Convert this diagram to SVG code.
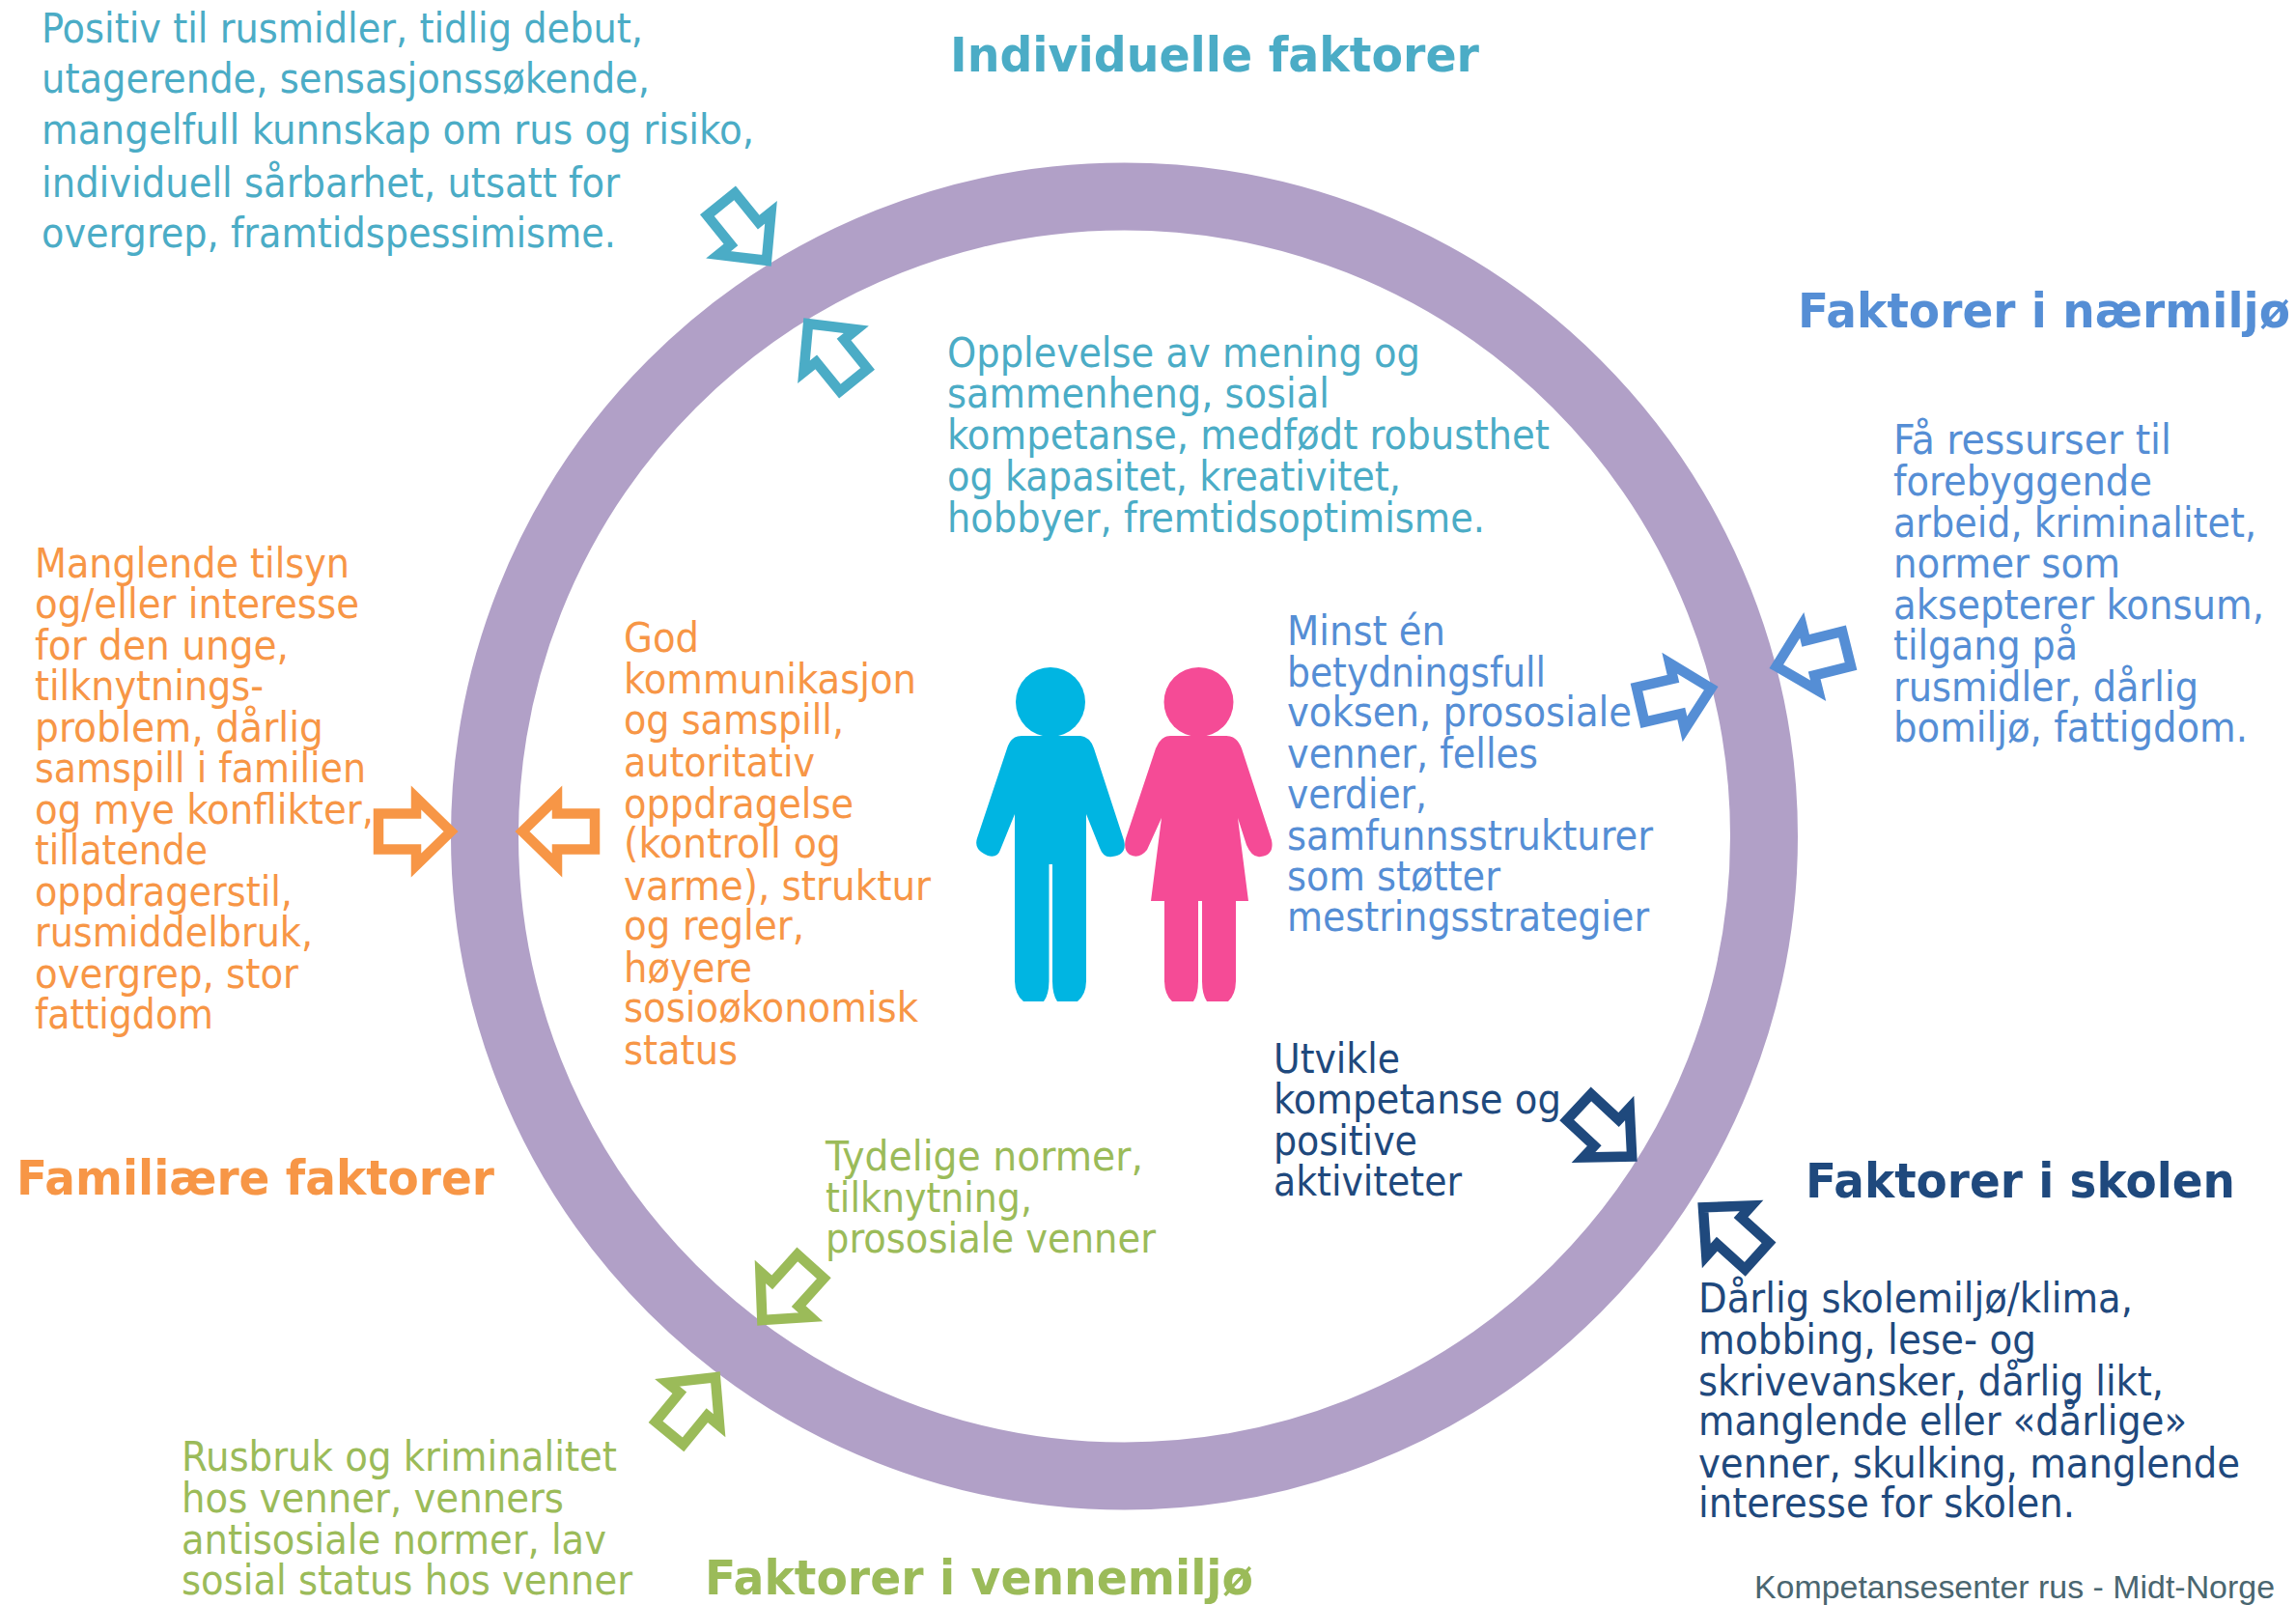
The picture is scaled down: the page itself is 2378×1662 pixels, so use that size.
<svg xmlns="http://www.w3.org/2000/svg" width="2378" height="1662" viewBox="0 0 2378 1662">
<style>
text{font-family:"DejaVu Sans Condensed","DejaVu Sans",Tahoma,sans-serif;font-size:42.5px}
.h{font-family:"DejaVu Sans","DejaVu Sans Bold",sans-serif;font-weight:bold;font-size:50px}
.f{font-family:"Liberation Sans",Arial,sans-serif;font-size:33px;fill:#4a6670}
.teal{fill:#4BACC6}.blue{fill:#558ED5}.navy{fill:#1F497D}.orange{fill:#F79646}.green{fill:#9BBB59}
.a{fill:#fff;stroke-width:10.5;stroke-miterlimit:10}
.at{stroke:#4BACC6}.ab{stroke:#558ED5}.an{stroke:#1F497D}.ao{stroke:#F79646}.ag{stroke:#9BBB59}
</style>
<defs><polygon id="arrow" points="-8,0 -44,-35 -44,-18.5 -83,-18.5 -83,18.5 -44,18.5 -44,35"/></defs>
<rect width="2378" height="1662" fill="#fff"/>
<g id="ring"><circle cx="1164.5" cy="866" r="662.5" fill="none" stroke="#B1A0C7" stroke-width="70"/></g>
<g id="people">
<ellipse cx="1088" cy="727" rx="36" ry="36" fill="#00B5E2"/>
<path fill="#00B5E2" d="M1058 762L1119 762Q1129 763 1133 775L1164 870Q1168 885 1152 887Q1143 889 1139 878L1125 843L1125 1015Q1125 1030 1116 1037L1095 1037Q1090 1030 1090 1015L1090 895L1086.5 895L1086.5 1015Q1086.5 1030 1081 1037L1060 1037Q1051 1030 1051 1015L1051 843L1036 880Q1033 889 1023 886Q1008 880 1012 868L1043 775Q1047 762 1058 762Z"/>
<ellipse cx="1241.5" cy="727" rx="36" ry="36" fill="#F54B96"/>
<path fill="#F54B96" d="M1212 762L1270 762Q1281 762 1286 775L1317 870Q1320 885 1306 887Q1297 889 1291 875L1282 847L1293 933L1280 933L1280 1015Q1280 1030 1272 1037L1250 1037Q1245 1030 1245 1015L1245 933L1241 933L1241 1015Q1241 1030 1236 1037L1214 1037Q1206 1030 1206 1015L1206 933L1192 933L1203 847L1188 880Q1180 890 1170 885Q1163 880 1166 868L1197 775Q1202 762 1212 762Z"/>
</g>
<g id="connectors">
<use href="#arrow" class="a at" transform="translate(799 276) rotate(51)"/>
<use href="#arrow" class="a at" transform="translate(832 329) rotate(-129)"/>
<use href="#arrow" class="a ao" transform="translate(475 861)"/>
<use href="#arrow" class="a ao" transform="translate(533 861) rotate(180)"/>
<use href="#arrow" class="a ag" transform="translate(784 1373) rotate(132)"/>
<use href="#arrow" class="a ag" transform="translate(746 1420) rotate(-50.6)"/>
<use href="#arrow" class="a ab" transform="translate(1832 692) rotate(166)"/>
<use href="#arrow" class="a ab" transform="translate(1780 711) rotate(-13)"/>
<use href="#arrow" class="a an" transform="translate(1696 1203) rotate(43)"/>
<use href="#arrow" class="a an" transform="translate(1758 1245) rotate(-138)"/>
</g>
<g id="individuelle" class="teal" transform="translate(0 -1)">
<text class="h" x="984" y="75" textLength="548" lengthAdjust="spacingAndGlyphs">Individuelle faktorer</text>
<text x="43" y="45" textLength="623" lengthAdjust="spacingAndGlyphs">Positiv til rusmidler, tidlig debut,</text>
<text x="43" y="97" textLength="630" lengthAdjust="spacingAndGlyphs">utagerende, sensasjonssøkende,</text>
<text x="43" y="150" textLength="738" lengthAdjust="spacingAndGlyphs">mangelfull kunnskap om rus og risiko,</text>
<text x="43" y="205" textLength="599" lengthAdjust="spacingAndGlyphs">individuell sårbarhet, utsatt for</text>
<text x="43" y="257" textLength="595" lengthAdjust="spacingAndGlyphs">overgrep, framtidspessimisme.</text>
<text x="981" y="381" textLength="490" lengthAdjust="spacingAndGlyphs">Opplevelse av mening og</text>
<text x="981" y="423" textLength="396" lengthAdjust="spacingAndGlyphs">sammenheng, sosial</text>
<text x="981" y="466" textLength="624" lengthAdjust="spacingAndGlyphs">kompetanse, medfødt robusthet</text>
<text x="981" y="509" textLength="470" lengthAdjust="spacingAndGlyphs">og kapasitet, kreativitet,</text>
<text x="981" y="552" textLength="557" lengthAdjust="spacingAndGlyphs">hobbyer, fremtidsoptimisme.</text>
</g>
<g id="naermiljo" class="blue" transform="translate(0 -1)">
<text class="h" x="1862" y="340" textLength="510" lengthAdjust="spacingAndGlyphs">Faktorer i nærmiljø</text>
<text x="1961" y="471" textLength="288" lengthAdjust="spacingAndGlyphs">Få ressurser til</text>
<text x="1961" y="514" textLength="268" lengthAdjust="spacingAndGlyphs">forebyggende</text>
<text x="1961" y="557" textLength="376" lengthAdjust="spacingAndGlyphs">arbeid, kriminalitet,</text>
<text x="1961" y="599" textLength="235" lengthAdjust="spacingAndGlyphs">normer som</text>
<text x="1961" y="642" textLength="384" lengthAdjust="spacingAndGlyphs">aksepterer konsum,</text>
<text x="1961" y="684" textLength="191" lengthAdjust="spacingAndGlyphs">tilgang på</text>
<text x="1961" y="727" textLength="316" lengthAdjust="spacingAndGlyphs">rusmidler, dårlig</text>
<text x="1961" y="769" textLength="367" lengthAdjust="spacingAndGlyphs">bomiljø, fattigdom.</text>
<text x="1333" y="669" textLength="164" lengthAdjust="spacingAndGlyphs">Minst én</text>
<text x="1333" y="712" textLength="268" lengthAdjust="spacingAndGlyphs">betydningsfull</text>
<text x="1333" y="753" textLength="357" lengthAdjust="spacingAndGlyphs">voksen, prososiale</text>
<text x="1333" y="796" textLength="260" lengthAdjust="spacingAndGlyphs">venner, felles</text>
<text x="1333" y="838" textLength="145" lengthAdjust="spacingAndGlyphs">verdier,</text>
<text x="1333" y="881" textLength="379" lengthAdjust="spacingAndGlyphs">samfunnsstrukturer</text>
<text x="1333" y="923" textLength="221" lengthAdjust="spacingAndGlyphs">som støtter</text>
<text x="1333" y="965" textLength="375" lengthAdjust="spacingAndGlyphs">mestringsstrategier</text>
</g>
<g id="skolen" class="navy" transform="translate(0 -1)">
<text class="h" x="1870" y="1241" textLength="445" lengthAdjust="spacingAndGlyphs">Faktorer i skolen</text>
<text x="1319" y="1112" textLength="131" lengthAdjust="spacingAndGlyphs">Utvikle</text>
<text x="1319" y="1154" textLength="298" lengthAdjust="spacingAndGlyphs">kompetanse og</text>
<text x="1319" y="1197" textLength="149" lengthAdjust="spacingAndGlyphs">positive</text>
<text x="1319" y="1239" textLength="195" lengthAdjust="spacingAndGlyphs">aktiviteter</text>
<text x="1759" y="1360" textLength="450" lengthAdjust="spacingAndGlyphs">Dårlig skolemiljø/klima,</text>
<text x="1759" y="1403" textLength="350" lengthAdjust="spacingAndGlyphs">mobbing, lese- og</text>
<text x="1759" y="1446" textLength="482" lengthAdjust="spacingAndGlyphs">skrivevansker, dårlig likt,</text>
<text x="1759" y="1487" textLength="506" lengthAdjust="spacingAndGlyphs">manglende eller «dårlige»</text>
<text x="1759" y="1531" textLength="561" lengthAdjust="spacingAndGlyphs">venner, skulking, manglende</text>
<text x="1759" y="1572" textLength="390" lengthAdjust="spacingAndGlyphs">interesse for skolen.</text>
</g>
<g id="familie" class="orange" transform="translate(0 -1)">
<text class="h" x="17" y="1238" textLength="495" lengthAdjust="spacingAndGlyphs">Familiære faktorer</text>
<text x="36" y="599" textLength="326" lengthAdjust="spacingAndGlyphs">Manglende tilsyn</text>
<text x="36" y="641" textLength="336" lengthAdjust="spacingAndGlyphs">og/eller interesse</text>
<text x="36" y="684" textLength="263" lengthAdjust="spacingAndGlyphs">for den unge,</text>
<text x="36" y="726" textLength="237" lengthAdjust="spacingAndGlyphs">tilknytnings-</text>
<text x="36" y="769" textLength="299" lengthAdjust="spacingAndGlyphs">problem, dårlig</text>
<text x="36" y="811" textLength="343" lengthAdjust="spacingAndGlyphs">samspill i familien</text>
<text x="36" y="854" textLength="351" lengthAdjust="spacingAndGlyphs">og mye konflikter,</text>
<text x="36" y="896" textLength="179" lengthAdjust="spacingAndGlyphs">tillatende</text>
<text x="36" y="939" textLength="267" lengthAdjust="spacingAndGlyphs">oppdragerstil,</text>
<text x="36" y="981" textLength="288" lengthAdjust="spacingAndGlyphs">rusmiddelbruk,</text>
<text x="36" y="1024" textLength="273" lengthAdjust="spacingAndGlyphs">overgrep, stor</text>
<text x="36" y="1066" textLength="185" lengthAdjust="spacingAndGlyphs">fattigdom</text>
<text x="646" y="676" textLength="78" lengthAdjust="spacingAndGlyphs">God</text>
<text x="646" y="719" textLength="303" lengthAdjust="spacingAndGlyphs">kommunikasjon</text>
<text x="646" y="761" textLength="228" lengthAdjust="spacingAndGlyphs">og samspill,</text>
<text x="646" y="805" textLength="198" lengthAdjust="spacingAndGlyphs">autoritativ</text>
<text x="646" y="848" textLength="238" lengthAdjust="spacingAndGlyphs">oppdragelse</text>
<text x="646" y="889" textLength="225" lengthAdjust="spacingAndGlyphs">(kontroll og</text>
<text x="646" y="933" textLength="318" lengthAdjust="spacingAndGlyphs">varme), struktur</text>
<text x="646" y="974" textLength="187" lengthAdjust="spacingAndGlyphs">og regler,</text>
<text x="646" y="1018" textLength="133" lengthAdjust="spacingAndGlyphs">høyere</text>
<text x="646" y="1059" textLength="305" lengthAdjust="spacingAndGlyphs">sosioøkonomisk</text>
<text x="646" y="1103" textLength="118" lengthAdjust="spacingAndGlyphs">status</text>
</g>
<g id="vennemiljo" class="green" transform="translate(0 -1)">
<text class="h" x="730" y="1652" textLength="568" lengthAdjust="spacingAndGlyphs">Faktorer i vennemiljø</text>
<text x="855" y="1213" textLength="329" lengthAdjust="spacingAndGlyphs">Tydelige normer,</text>
<text x="855" y="1256" textLength="214" lengthAdjust="spacingAndGlyphs">tilknytning,</text>
<text x="855" y="1298" textLength="342" lengthAdjust="spacingAndGlyphs">prososiale venner</text>
<text x="188" y="1524" textLength="451" lengthAdjust="spacingAndGlyphs">Rusbruk og kriminalitet</text>
<text x="188" y="1567" textLength="396" lengthAdjust="spacingAndGlyphs">hos venner, venners</text>
<text x="188" y="1610" textLength="440" lengthAdjust="spacingAndGlyphs">antisosiale normer, lav</text>
<text x="188" y="1652" textLength="467" lengthAdjust="spacingAndGlyphs">sosial status hos venner</text>
</g>
<g id="footer"><text class="f" x="1817" y="1655" textLength="539" lengthAdjust="spacingAndGlyphs">Kompetansesenter rus - Midt-Norge</text></g>
</svg>
